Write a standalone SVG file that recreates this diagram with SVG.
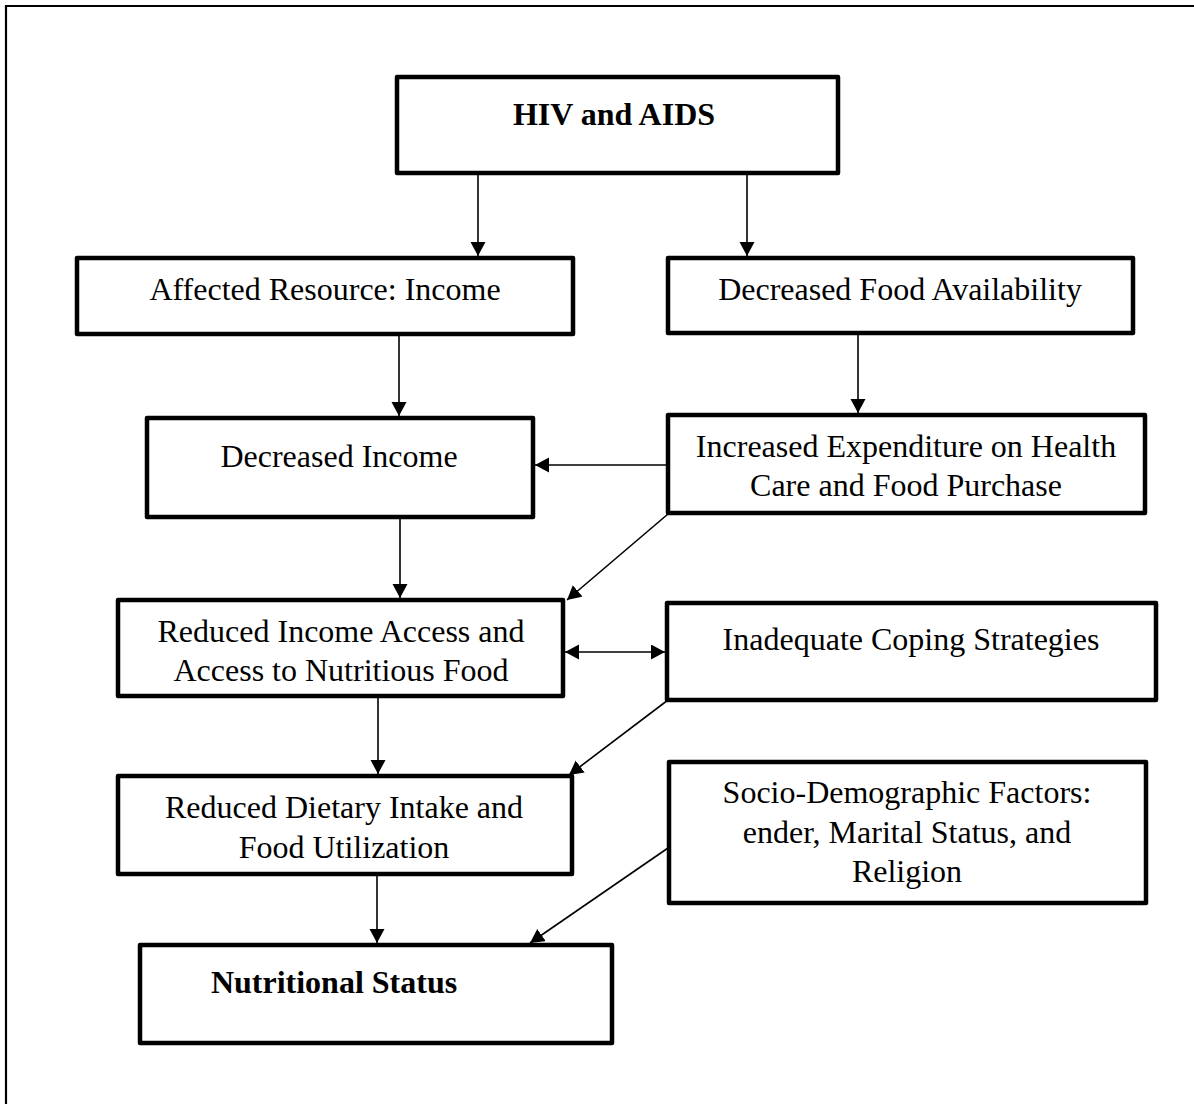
<svg xmlns="http://www.w3.org/2000/svg" width="1194" height="1104" viewBox="0 0 1194 1104">
<style>
.box{fill:#fff;stroke:#000;stroke-width:4.5;stroke-linejoin:round}
.t{font-family:"Liberation Serif","Times New Roman",serif;font-size:32px;fill:#000;text-anchor:middle}
.b{font-weight:bold}
.c{stroke:#000;stroke-width:1.6;fill:none}
</style>
<defs>
<marker id="ah" markerUnits="userSpaceOnUse" markerWidth="16" markerHeight="16" refX="14" refY="7.5" orient="auto-start-reverse" viewBox="0 0 16 16">
<path d="M0,0 L14,7.5 L0,15 z" fill="#000"/>
</marker>
</defs>
<rect width="1194" height="1104" fill="#fff"/>
<path d="M6,1104 L6,6 L1194,6" fill="none" stroke="#000" stroke-width="2.2"/>

<g id="n-hiv">
<rect class="box" x="397" y="77" width="441" height="96"/>
<text class="t b" x="614" y="125">HIV and AIDS</text>
</g>
<g id="n-affected">
<rect class="box" x="77" y="258" width="496" height="76"/>
<text class="t" x="325" y="300">Affected Resource: Income</text>
</g>
<g id="n-foodavail">
<rect class="box" x="668" y="258" width="465" height="75"/>
<text class="t" x="900" y="300">Decreased Food Availability</text>
</g>
<g id="n-decincome">
<rect class="box" x="147" y="418" width="386" height="99"/>
<text class="t" x="339" y="467">Decreased Income</text>
</g>
<g id="n-expenditure">
<rect class="box" x="668" y="415" width="477" height="98"/>
<text class="t" x="906" y="457">Increased Expenditure on Health</text>
<text class="t" x="906" y="496">Care and Food Purchase</text>
</g>
<g id="n-access">
<rect class="box" x="118" y="600" width="445" height="96"/>
<text class="t" x="341" y="642">Reduced Income Access and</text>
<text class="t" x="341" y="681">Access to Nutritious Food</text>
</g>
<g id="n-coping">
<rect class="box" x="667" y="603" width="489" height="97"/>
<text class="t" x="911" y="650">Inadequate Coping Strategies</text>
</g>
<g id="n-dietary">
<rect class="box" x="118" y="776" width="454" height="98"/>
<text class="t" x="344" y="818">Reduced Dietary Intake and</text>
<text class="t" x="344" y="858">Food Utilization</text>
</g>
<g id="n-socio">
<rect class="box" x="669" y="762" width="477" height="141"/>
<text class="t" x="907" y="803">Socio-Demographic Factors:</text>
<text class="t" x="907" y="843">ender, Marital Status, and</text>
<text class="t" x="907" y="882">Religion</text>
</g>
<g id="n-nutrition">
<rect class="box" x="140" y="945" width="472" height="98"/>
<text class="t b" x="334" y="993">Nutritional Status</text>
</g>

<g id="connectors">
<line class="c" x1="478" y1="175" x2="478" y2="256" marker-end="url(#ah)"/>
<line class="c" x1="747" y1="175" x2="747" y2="256" marker-end="url(#ah)"/>
<line class="c" x1="399" y1="336" x2="399" y2="416" marker-end="url(#ah)"/>
<line class="c" x1="858" y1="335" x2="858" y2="413" marker-end="url(#ah)"/>
<line class="c" x1="666" y1="465" x2="535" y2="465" marker-end="url(#ah)"/>
<line class="c" x1="400" y1="519" x2="400" y2="598" marker-end="url(#ah)"/>
<line class="c" x1="668" y1="514" x2="567" y2="600" marker-end="url(#ah)"/>
<line class="c" x1="565" y1="652" x2="665" y2="652" marker-start="url(#ah)" marker-end="url(#ah)"/>
<line class="c" x1="378" y1="698" x2="378" y2="774" marker-end="url(#ah)"/>
<line class="c" x1="668" y1="700" x2="569" y2="775" marker-end="url(#ah)"/>
<line class="c" x1="377" y1="872" x2="377" y2="943" marker-end="url(#ah)"/>
<line class="c" x1="668" y1="848" x2="530" y2="943" marker-end="url(#ah)"/>
</g>
</svg>
